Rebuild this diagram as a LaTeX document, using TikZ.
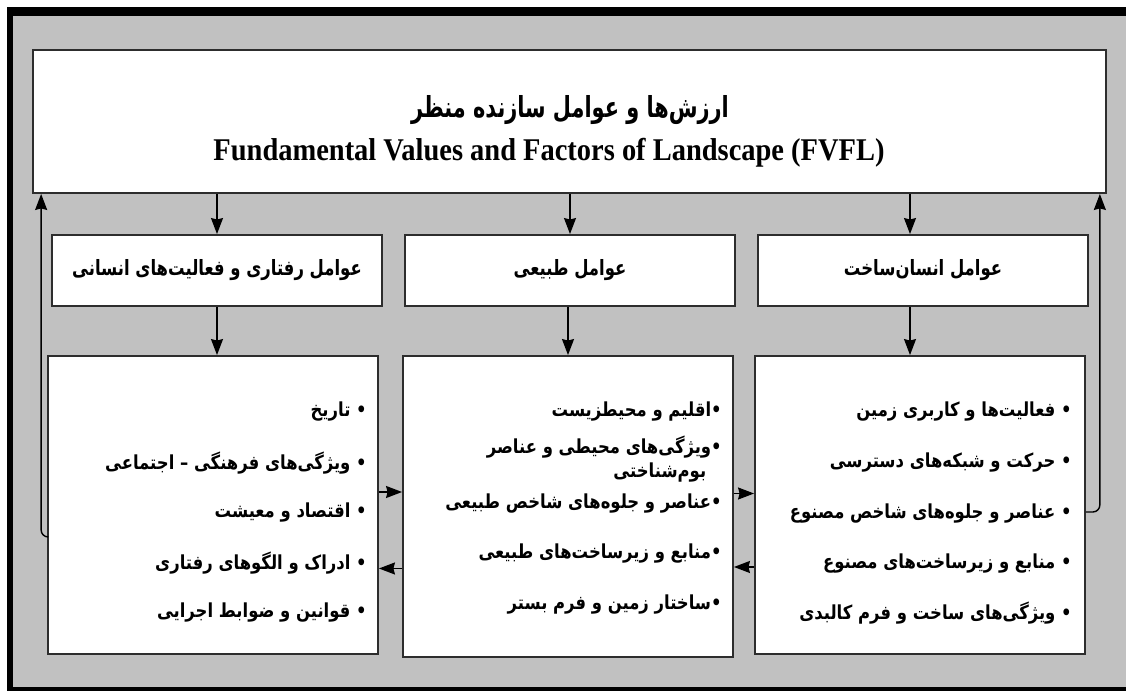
\documentclass[tikz,border=0pt]{standalone}
\usepackage{fontspec}
\usepackage{tikz}
\usetikzlibrary{arrows.meta,positioning}
\TeXXeTstate=1
\setmainfont{Liberation Serif}
\newfontfamily\farsi[Script=Arabic,FakeStretch=0.85]{DejaVu Sans}
\newfontfamily\farsihead[Script=Arabic,FakeStretch=0.78]{DejaVu Sans}
\newfontfamily\farsititle[Script=Arabic,FakeStretch=0.72]{DejaVu Sans}
\newfontfamily\entitle[FakeStretch=0.9]{Liberation Serif}
\newcommand{\fa}[1]{{\farsi\bfseries\beginR #1\endR}}
\newcommand{\fahead}[1]{{\farsihead\bfseries\beginR #1\endR}}
\definecolor{bggray}{RGB}{193,193,193}
\definecolor{boxline}{RGB}{45,45,45}

\tikzset{
  boxbase/.style={draw=boxline, line width=1.1pt, fill=white, inner sep=0pt},
  topbox/.style={boxbase, minimum width=21.46cm, minimum height=2.86cm},
  headbox/.style={boxbase, minimum width=6.6cm, minimum height=1.42cm, font=\fontsize{12}{14}\selectfont},
  bodybox/.style={boxbase, minimum width=6.6cm, minimum height=5.96cm},
  item/.style={anchor=east, inner sep=0pt, font=\fontsize{11}{14}\selectfont},
  arr/.style={-{Stealth[length=3.2mm,width=2.4mm,inset=0.3mm]}, line width=0.8pt, draw=black}
}

\begin{document}
\begin{tikzpicture}[x=0.02cm,y=-0.02cm]
\useasboundingbox (0,0) rectangle (1126,692);

% frame
\fill[bggray] (7,7) rectangle (1126,691);
\fill[black] (7,7) rectangle (1126,16);
\fill[black] (7,7) rectangle (13,691);
\fill[black] (7,687) rectangle (1126,691);

% top box
\node[topbox] (fvfl) at (569.5,121.5) {};
\node[inner sep=0pt, font=\fontsize{16.5}{18}\selectfont] (titlefa) at (570,110) {{\farsititle\bfseries\beginR ارزش‌ها و عوامل سازنده منظر\endR}};
\node[inner sep=0pt, font=\fontsize{18}{20}\selectfont\entitle\bfseries] (titleen) at (549,153) {Fundamental Values and Factors of Landscape (FVFL)};

% headers
\node[headbox] (hdrL) at (217,270.5) {\fahead{عوامل رفتاری و فعالیت‌های انسانی}};
\node[headbox] (hdrM) at (570,270.5) {\fahead{عوامل طبیعی}};
\node[headbox] (hdrR) at (923,270.5) {\fahead{عوامل انسان‌ساخت}};
\coordinate (rx) at ([xshift=-0.26cm]hdrR.north);

% bodies
\node[bodybox] (bodyL) at (213,505) {};
\node[bodybox, minimum height=6.02cm] (bodyM) at (568,506.5) {};
\node[bodybox] (bodyR) at (920,505) {};

% left items
\node[item] (l1) at (367,412) {\fa{• تاریخ}};
\node[item] (l2) at (367,463) {\fa{• ویژگی‌های فرهنگی – اجتماعی}};
\node[item] (l3) at (367,513) {\fa{• اقتصاد و معیشت}};
\node[item] (l4) at (367,563) {\fa{• ادراک و الگوهای رفتاری}};
\node[item] (l5) at (367,613) {\fa{• قوانین و ضوابط اجرایی}};

% middle items
\node[item] (m1) at (722,412) {\fa{•اقلیم و محیطزیست}};
\node[item, align=right] (m2) at (722,459) {\fa{•ویژگی‌های محیطی و عناصر}\\\fa{\hspace*{0.8em}بوم‌شناختی}};
\node[item] (m3) at (722,504) {\fa{•عناصر و جلوه‌های شاخص طبیعی}};
\node[item] (m4) at (722,554) {\fa{•منابع و زیرساخت‌های طبیعی}};
\node[item] (m5) at (722,605) {\fa{•ساختار زمین و فرم بستر}};

% right items
\node[item] (r1) at (1072,412) {\fa{• فعالیت‌ها و کاربری زمین}};
\node[item] (r2) at (1072,463) {\fa{• حرکت و شبکه‌های دسترسی}};
\node[item] (r3) at (1072,514) {\fa{• عناصر و جلوه‌های شاخص مصنوع}};
\node[item] (r4) at (1072,564) {\fa{• منابع و زیرساخت‌های مصنوع}};
\node[item] (r5) at (1072,613) {\fa{• ویژگی‌های ساخت و فرم کالبدی}};

% top -> headers -> bodies
\draw[arr] (fvfl.south -| hdrL) -- (hdrL);
\draw[arr] (fvfl.south -| hdrM) -- (hdrM);
\draw[arr] (fvfl.south -| rx) -- (rx);
\draw[arr] (hdrL) -- (bodyL.north -| hdrL);
\draw[arr] (hdrM.south -| bodyM) -- (bodyM);
\draw[arr] (rx |- hdrR.south) -- (rx |- bodyR.north);

% between bodies
\draw[arr] ([yshift=0.26cm]bodyL.east) -- ([yshift=0.26cm]bodyL.east -| bodyM.west);
\draw[arr] ([yshift=-1.24cm]bodyM.west) -- ([yshift=-1.24cm]bodyM.west -| bodyL.east);
\draw[arr] ([yshift=0.26cm]bodyM.east) -- ([yshift=0.26cm]bodyM.east -| bodyR.west);
\draw[arr] ([yshift=-1.24cm]bodyR.west) -- ([yshift=-1.24cm]bodyR.west -| bodyM.east);

% feedback to top
\draw[arr, rounded corners=4] ([yshift=-0.64cm]bodyL.west) -| ([xshift=0.18cm]fvfl.south west);
\draw[arr, rounded corners=4] ([yshift=-0.14cm]bodyR.east) -| ([xshift=-0.14cm]fvfl.south east);

\end{tikzpicture}
\end{document}
